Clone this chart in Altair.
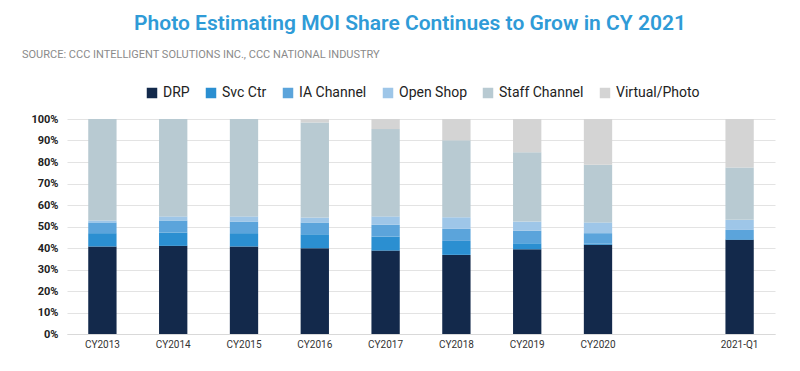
import altair as alt
import pandas as pd

categories = ["CY2013", "CY2014", "CY2015", "CY2016", "CY2017", "CY2018", "CY2019", "CY2020", "2021-Q1"]
x_domain = ["CY2013", "CY2014", "CY2015", "CY2016", "CY2017", "CY2018", "CY2019", "CY2020", " ", "2021-Q1"]
series = ["DRP", "Svc Ctr", "IA Channel", "Open Shop", "Staff Channel", "Virtual/Photo"]
colors = ["#13294b", "#2b8fd1", "#5ba4db", "#9ec6e8", "#b8cad2", "#d4d4d4"]

drp = [40.7, 41.0, 40.7, 39.9, 38.8, 36.8, 39.4, 41.5, 43.8]
svc_ctr = [6.2, 6.2, 6.2, 6.5, 6.5, 6.5, 2.8, 0.5, 0.3]
ia_channel = [5.0, 5.6, 5.4, 5.5, 5.5, 5.6, 5.8, 4.9, 4.3]
open_shop = [0.9, 1.9, 2.4, 2.3, 3.9, 5.4, 4.3, 5.0, 4.7]
staff_channel = [47.2, 45.3, 45.3, 44.2, 40.6, 35.8, 32.2, 26.8, 24.4]
virtual_photo = [0.0, 0.0, 0.0, 1.6, 4.7, 9.9, 15.5, 21.3, 22.5]

values = [drp, svc_ctr, ia_channel, open_shop, staff_channel, virtual_photo]
rows = []
for si, (name, vals) in enumerate(zip(series, values)):
    for cat, v in zip(categories, vals):
        rows.append({"cat": cat, "series": name, "order": si, "value": v})
df = pd.DataFrame(rows)

FONT = "Roboto"

bars = alt.Chart(df).mark_bar().encode(
    x=alt.X("cat:N", scale=alt.Scale(domain=x_domain, paddingInner=0.6, paddingOuter=0.3),
            axis=alt.Axis(title=None, labelAngle=0, ticks=False, domain=True, domainColor="#d9d9d9",
                          labelFont=FONT, labelFontSize=10, labelColor="#333333", labelPadding=5)),
    y=alt.Y("value:Q", stack="normalize",
            scale=alt.Scale(domain=[0, 1], nice=False),
            axis=alt.Axis(title=None, format=".0%", values=[i / 10 for i in range(11)],
                          ticks=False, domain=False, gridColor="#e3e3e3",
                          labelFont=FONT, labelFontSize=11, labelFontWeight="bold",
                          labelColor="#222222", labelPadding=9)),
    color=alt.Color("series:N", scale=alt.Scale(domain=series, range=colors),
                    legend=alt.Legend(title=None, orient="none", legendX=78, legendY=-33,
                                      direction="horizontal", symbolType="square", symbolSize=110,
                                      symbolStrokeWidth=0, labelFont=FONT, labelFontSize=14,
                                      labelColor="#222222", columnPadding=14, labelOffset=4)),
    order=alt.Order("order:Q", sort="ascending"),
)

source = alt.Chart(pd.DataFrame({"t": ["SOURCE:  CCC INTELLIGENT SOLUTIONS INC., CCC NATIONAL INDUSTRY"]})).mark_text(
    align="left", baseline="middle", font=FONT, fontSize=11, color="#8a8a8a"
).encode(text="t:N", x=alt.value(-45), y=alt.value(-64))

chart = alt.layer(bars, source).properties(
    width=708, height=215,
    autosize=alt.AutoSizeParams(type="none"),
    padding={"left": 59, "top": 111, "right": 17, "bottom": 25},
    title=alt.TitleParams(text="Photo Estimating MOI Share Continues to Grow in CY 2021",
                          anchor="middle", dx=-11, offset=15, font=FONT, fontSize=21,
                          fontWeight=600, color="#2f9bd7"),
).configure_view(stroke=None)

chart.save("out.html", embed_options={"renderer": "svg", "actions": False})
